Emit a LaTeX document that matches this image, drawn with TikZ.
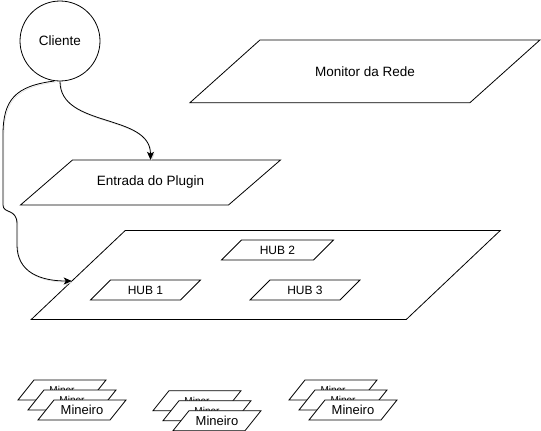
\documentclass[tikz,border=0pt]{standalone}
\usepackage{fontspec}
\setmainfont{Liberation Sans}
\usetikzlibrary{shapes,arrows,arrows.meta,positioning,calc}

\tikzset{
  plano/.style={draw, fill=white, line width=0.8pt},
  rotulo/.style={inner sep=0pt, font=\fontsize{13.5}{15}\selectfont},
  ligacao/.style={-{Stealth[length=8pt,width=7pt,inset=2pt]}, line width=0.8pt, preaction={draw=black!15, transform canvas={shift={(1pt,-1.2pt)}}}}
}
% nome, centro, largura, altura, inclinacao, texto
\newcommand{\quadro}[6]{%
  \draw[plano] ($(#2)+({-(#3)/2+(#5)/2},{-(#4)/2})$) -- ++(#3,0) -- ++(-#5,#4) -- ++(-#3,0) -- cycle;
  \node[rotulo, minimum width=#3, minimum height=#4] (#1) at (#2) {#6};
}
\newcommand{\menor}{\fontsize{10}{11}\selectfont}
\newcommand{\hubfonte}{\fontsize{12}{14}\selectfont}

\begin{document}
\begin{tikzpicture}[x=1pt,y=-1pt]
\useasboundingbox (0,0) rectangle (541,431);

\node[rotulo, circle, draw, line width=0.8pt, minimum size=80] (cliente) at (60,41) {Cliente};

\quadro{monitor}{365,71.3}{280}{62.7}{70}{Monitor da Rede}
\quadro{entrada}{150.5,182.5}{208}{45}{52}{Entrada do Plugin}
\quadro{rede}{265.75,275}{375}{89}{94}{}
\quadro{hubdois}{277.5,250}{92}{20}{20}{\hubfonte HUB 2}
\quadro{hubum}{145.5,290}{90}{20}{20}{\hubfonte HUB 1}
\quadro{hubtres}{305,290}{90}{20}{20}{\hubfonte HUB 3}

% mineiros
\foreach \gx/\gy [count=\i] in {62/390, 197/400.7, 333/390} {
  \quadro{minerA\i}{\gx,\gy}{72}{20}{16}{\menor Miner}
  \quadro{minerB\i}{\gx+10,\gy+10}{72}{20}{16}{\menor Miner}
  \quadro{minerC\i}{\gx+20,\gy+20}{72}{20}{16}{\fontsize{13}{15}\selectfont Mineiro}
}

\draw[ligacao] (cliente.south) to[out=-90, in=90] (entrada.north);
\draw[ligacao] (cliente.262) .. controls (15,86) and (3,100) .. (3,135) -- (3,205)
  .. controls (3,214) and (17,208) .. (17,224) -- (17,245)
  .. controls (17,272) and (40,281) .. ([shift={(-6.3,6)}]rede.west);
\end{tikzpicture}
\end{document}
